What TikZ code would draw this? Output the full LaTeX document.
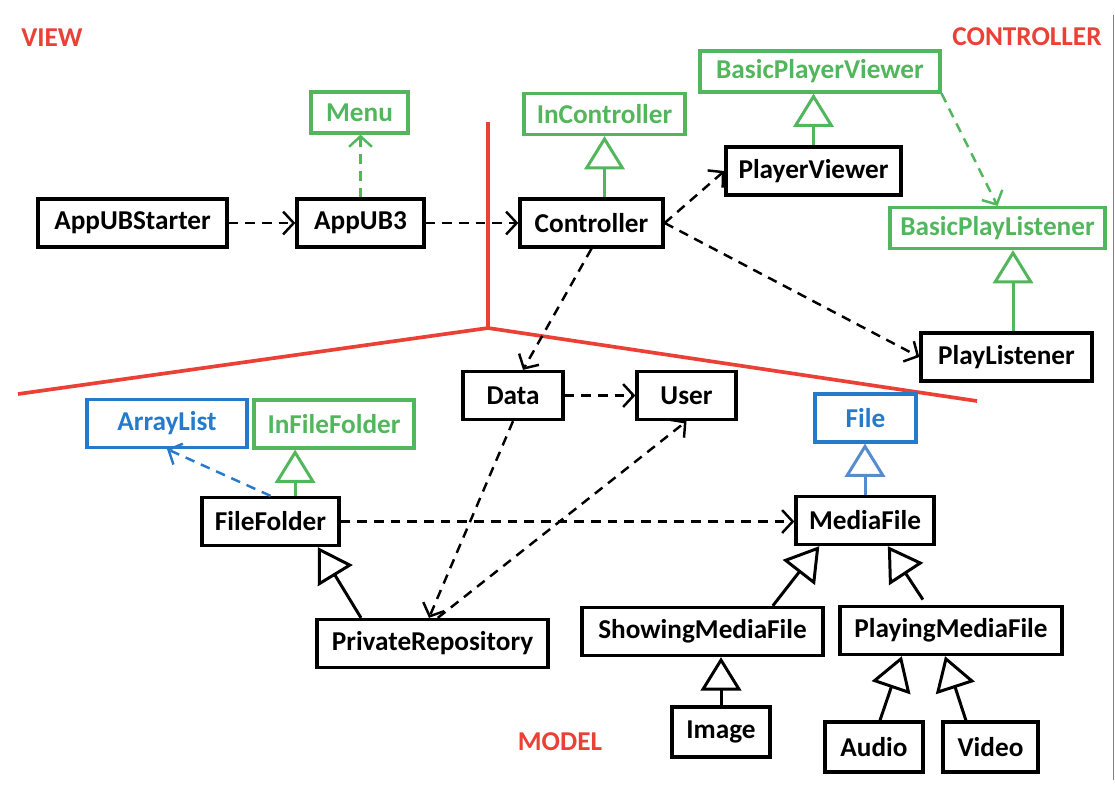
\documentclass[tikz,border=0pt]{standalone}
\usepackage{fontspec}
\setmainfont{Carlito}
\usetikzlibrary{arrows.meta}
\definecolor{mvcred}{RGB}{234,64,54}
\definecolor{ifgreen}{RGB}{82,182,92}
\definecolor{jblue}{RGB}{38,122,202}
\definecolor{tipblue}{RGB}{86,140,206}
\begin{document}
\begin{tikzpicture}[x=0.02cm,y=-0.02cm,
    box/.style={draw,line width=1.9pt,minimum height=0.96cm,inner sep=0pt,
        font=\fontsize{15.5}{18}\selectfont\bfseries},
    cls/.style={box},
    ifc/.style={box,draw=ifgreen,text=ifgreen,line width=1.8pt,minimum height=0.82cm},
    lib/.style={box,draw=jblue,text=jblue,line width=1.8pt},
    dep/.style={line width=1.4pt,dash pattern=on 5.5pt off 4pt,
        -{Straight Barb[length=6pt,width=13pt]}},
    gen/.style={line width=1.7pt,-{Triangle[open,length=19pt,width=23pt]}},
    part/.style={mvcred,line width=2.1pt},
    tag/.style={text=mvcred,font=\fontsize{15.5}{18}\selectfont\bfseries}]
    \useasboundingbox (0,0) rectangle (1115,789);

    \node[tag] (view)    at (52,38)   {VIEW};
    \node[tag] (ctrltag) at (1027,37) {CONTROLLER};
    \node[tag] (model)   at (560,742) {MODEL};

    \draw[part] (488,122) -- (488,328) coordinate (mid);
    \draw[part] (18,394) -- (mid) -- (977,401);
    \draw[gray,line width=0.5pt] (1113,15) -- (1113,780);

    \node[cls,minimum width=3.78cm] (starter) at (132.5,223)  {AppUBStarter};
    \node[cls,minimum width=2.54cm] (appub)   at (360.5,223)  {AppUB3};
    \node[cls,minimum width=2.86cm] (ctrl)    at (591.5,223)  {Controller};
    \node[ifc,minimum width=1.94cm] (menu)    at (359.5,112.5){Menu};
    \node[ifc,minimum width=3.22cm] (inctrl)  at (604.5,114)  {InController};
    \node[ifc,minimum width=4.8cm]  (bpv)     at (820,71.5)   {BasicPlayerViewer};
    \node[cls,minimum width=3.5cm]  (pv)      at (813.5,171)  {PlayerViewer};
    \node[ifc,minimum width=4.3cm]  (bpl)     at (997.5,228)  {BasicPlayListener};
    \node[cls,minimum width=3.42cm] (pl)      at (1006.5,357) {PlayListener};

    \node[cls,minimum width=2cm]    (data)    at (513,395.5)  {Data};
    \node[cls,minimum width=1.98cm] (user)    at (686.5,395.5){User};
    \node[lib,minimum width=3.2cm]  (arr)     at (167,423.5)  {ArrayList};
    \node[ifc,minimum width=3.2cm,minimum height=0.96cm] (iff) at (334,424) {InFileFolder};
    \node[cls,minimum width=2.74cm] (ff)      at (270.5,521.5){FileFolder};
    \node[cls,minimum width=4.62cm] (pr)      at (432.5,643.5){PrivateRepository};
    \node[lib,minimum width=2.02cm] (file)    at (865.5,418)  {File};
    \node[cls,minimum width=2.76cm] (mf)      at (865,520.5)  {MediaFile};
    \node[cls,minimum width=4.82cm] (smf)     at (702.5,631.5){ShowingMediaFile};
    \node[cls,minimum width=4.44cm] (pmf)     at (951,630.5)  {PlayingMediaFile};
    \node[cls,minimum width=1.96cm,minimum height=1cm] (img)   at (721,732)   {Image};
    \node[cls,minimum width=1.96cm,minimum height=1cm] (audio) at (874,747)   {Audio};
    \node[cls,minimum width=1.9cm,minimum height=1cm]  (video) at (990.5,747) {Video};

    \draw[dep] (starter) -- (appub);
    \draw[dep] (appub) -- (ctrl);
    \draw[dep,ifgreen] (appub.north) -- (appub.north |- menu.south);
    \draw[gen,ifgreen] (ctrl.north -| inctrl.south) -- (inctrl.south);
    \draw[gen,ifgreen] (pv.north) -- (pv.north |- bpv.south);
    \draw[dep,ifgreen] (bpv.south east) -- (bpl.north);
    \draw[gen,ifgreen] ([xshift=3.7pt]pl.north) coordinate (plup) -- (plup |- bpl.south);
    \draw[dep] (ctrl.east) -- (pv.west);
    \draw[dep] (ctrl.east) -- (pl.west);
    \draw[dep] (ctrl.south) -- ([xshift=5.7pt]data.north);
    \draw[dep] (data) -- (user);
    \draw[dep] (data.south) -- ([xshift=-2pt]pr.north);
    \draw[dep] ([xshift=3pt]pr.north) -- (user.south);
    \draw[dep] (ff.east) -- (ff.east -| mf.west);
    \draw[dep,jblue] (ff.north) -- (arr.south);
    \draw[gen,ifgreen] ([xshift=14pt]ff.north) coordinate (ffup) -- (ffup |- iff.south);
    \draw[gen] ([xshift=-40.7pt]pr.north) -- ([xshift=27pt]ff.south);
    \draw[gen,tipblue] (mf.north) -- (mf.north |- file.south);
    \draw[gen] ([xshift=40pt]smf.north) -- ([xshift=-26pt]mf.south);
    \draw[gen] ([xshift=-16pt,yshift=3pt]pmf.north) -- ([xshift=13pt]mf.south);
    \draw[gen] (img.north) -- (img.north |- smf.south);
    \draw[gen] ([xshift=3.4pt]audio.north) -- ([xshift=-28pt]pmf.south);
    \draw[gen] ([xshift=-14pt]video.north) -- ([xshift=-3.4pt]pmf.south);
\end{tikzpicture}
\end{document}
